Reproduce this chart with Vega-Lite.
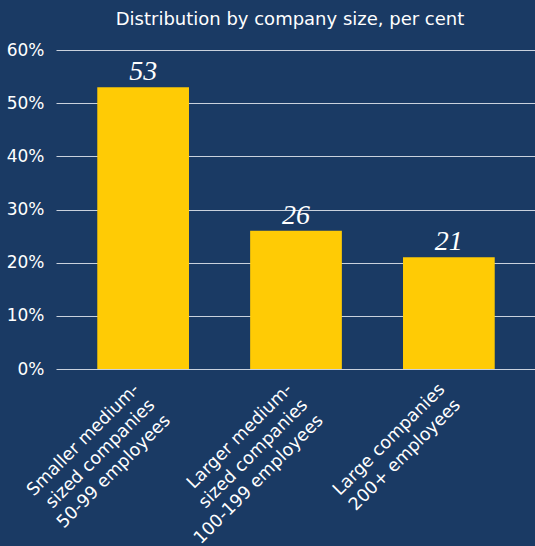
{
  "$schema": "https://vega.github.io/schema/vega-lite/v6.json",
  "autosize": {"type": "none"},
  "width": 480,
  "height": 319,
  "padding": {"left": 56, "top": 50, "right": 0, "bottom": 177},
  "background": "#1a3a64",
  "title": {
    "text": "Distribution by company size, per cent",
    "color": "#ffffff",
    "font": "DejaVu Sans",
    "fontSize": 18,
    "fontWeight": "normal",
    "anchor": "middle",
    "dx": -6,
    "offset": 12
  },
  "config": {"view": {"stroke": null}},
  "data": {
    "values": [
      {"category": "Smaller medium-|sized companies|50-99 employees", "value": 53},
      {"category": "Larger medium-|sized companies|100-199 employees", "value": 26},
      {"category": "Large companies|200+ employees", "value": 21}
    ]
  },
  "encoding": {
    "x": {
      "field": "category",
      "type": "nominal",
      "sort": null,
      "scale": {"paddingInner": 0.4, "paddingOuter": 0.27},
      "axis": {
        "title": null,
        "labelAngle": -45,
        "labelAlign": "right",
        "labelBaseline": "top",
        "labelColor": "#ffffff",
        "labelFont": "DejaVu Sans",
        "labelFontSize": 17.5,
        "labelLineHeight": 22,
        "labelExpr": "split(datum.label, '|')",
        "domain": false,
        "ticks": false,
        "labelPadding": 11,
        "labelOffset": -13,
        "labelLimit": 400
      }
    },
    "y": {
      "field": "value",
      "type": "quantitative",
      "scale": {"domain": [0, 60]},
      "axis": {
        "title": null,
        "values": [0, 10, 20, 30, 40, 50, 60],
        "labelExpr": "datum.value + '%'",
        "labelColor": "#ffffff",
        "labelFont": "DejaVu Sans",
        "labelFontSize": 17,
        "labelPadding": 12,
        "domain": false,
        "ticks": false,
        "grid": true,
        "gridColor": "#c9d1dd",
        "gridWidth": 1.2,
        "gridOpacity": 1
      }
    }
  },
  "layer": [
    {"mark": {"type": "bar", "color": "#ffcb05"}},
    {
      "mark": {
        "type": "text",
        "baseline": "alphabetic",
        "dy": -7,
        "color": "#ffffff",
        "font": "Liberation Serif",
        "fontStyle": "italic",
        "fontSize": 28
      },
      "encoding": {"text": {"field": "value", "type": "quantitative"}}
    }
  ]
}
